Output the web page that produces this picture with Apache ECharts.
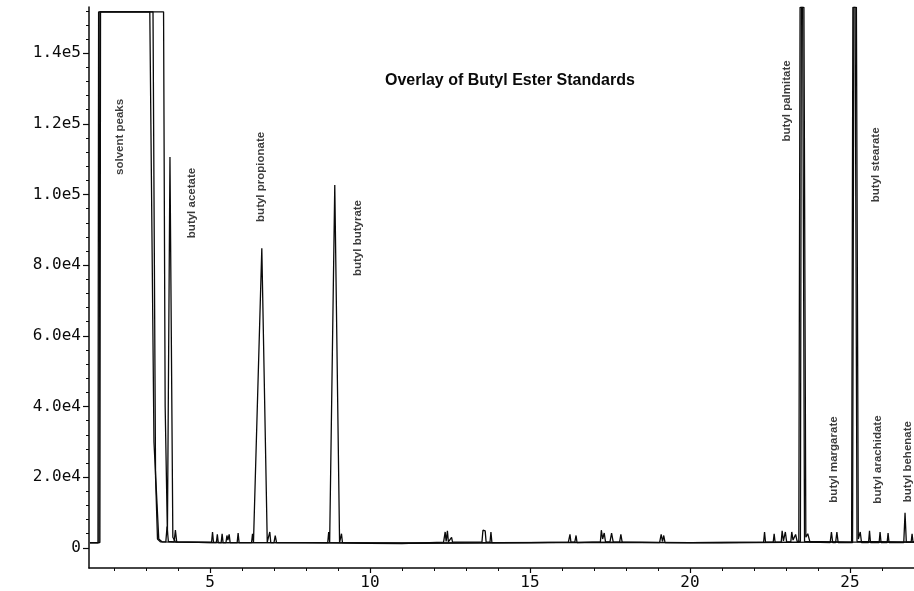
<!DOCTYPE html>
<html><head><meta charset="utf-8">
<script src="https://cdn.jsdelivr.net/npm/echarts@6/dist/echarts.min.js"></script>
<style>html,body{margin:0;padding:0;background:#fff}#c{width:914px;height:591px}</style>
</head><body><div id="c"></div>
<script>
// ---- axis ticks / labels ----
const xMajorTicks = [5, 10, 15, 20, 25];
const xMinorTicks = [2, 3, 4, 6, 7, 8, 9, 11, 12, 13, 14, 16, 17, 18, 19, 21, 22, 23, 24, 26];
const yMajorTicks = [0, 20000, 40000, 60000, 80000, 100000, 120000, 140000];
const yTickLabels = ['0', '2.0e4', '4.0e4', '6.0e4', '8.0e4', '1.0e5', '1.2e5', '1.4e5'];
const yMinorTicks = [4000, 8000, 12000, 16000, 24000, 28000, 32000, 36000, 44000, 48000, 52000, 56000,
  64000, 68000, 72000, 76000, 84000, 88000, 92000, 96000, 104000, 108000, 112000, 116000,
  124000, 128000, 132000, 136000, 144000, 148000, 152000];

// ---- traces: [retention time (min), abundance] ----
const traceA = [
  [1.25, 1400], [1.50, 1400], [1.52, 151700], [3.55, 151700], [3.60, 40000], [3.67, 4000],
  [3.75, 110600], [3.84, 3000], [3.92, 1700],
  [5.05, 1600], [5.08, 4500], [5.11, 1600], [5.35, 1500], [5.38, 4000], [5.41, 1500],
  [5.50, 1500], [5.53, 3500], [5.56, 2200], [5.60, 3800], [5.63, 1500],
  [5.85, 1500], [5.88, 4200], [5.91, 1500],
  [6.30, 1500], [6.33, 4000], [6.36, 1600], [6.42, 1600], [6.62, 84800], [6.79, 1600],
  [6.84, 1600], [6.87, 4500], [6.90, 1500],
  [8.68, 1500], [8.71, 4500], [8.74, 1500], [8.76, 1500], [8.90, 102700], [9.05, 1500],
  [9.08, 1500], [9.11, 4000], [9.14, 1500],
  [10.0, 1300], [11.0, 1200], [12.3, 1600], [12.35, 4500], [12.38, 1800], [12.42, 4800],
  [12.45, 1700], [12.55, 3000], [12.58, 1600],
  [13.5, 1700], [13.53, 5000], [13.56, 4600], [13.60, 4800], [13.63, 1600],
  [13.75, 1600], [13.78, 4500], [13.81, 1500],
  [15.0, 1500], [16.2, 1600], [16.25, 3800], [16.28, 1600], [16.40, 1600], [16.44, 3500], [16.47, 1500],
  [17.2, 1700], [17.23, 5000], [17.27, 2500], [17.32, 4200], [17.36, 1700],
  [17.5, 1700], [17.55, 4200], [17.60, 1700], [17.80, 1600], [17.84, 3800], [17.88, 1600],
  [19.05, 1500], [19.10, 3800], [19.14, 1800], [19.18, 3500], [19.22, 1500],
  [21.0, 1400], [22.0, 1500], [24.0, 1600], [26.0, 1600], [27.0, 1600]
];
const traceB = [
  [1.25, 1500], [1.53, 1500], [1.56, 151700], [3.12, 151700], [3.25, 30000], [3.40, 2500], [3.50, 1700],
  [4.0, 1600], [5.2, 1500], [5.23, 3800], [5.26, 1500], [6.0, 1500], [7.0, 1500], [7.04, 3500], [7.08, 1500],
  [9.0, 1400], [12.0, 1400], [14.0, 1500], [18.0, 1600], [20.0, 1500],
  [22.30, 1600], [22.33, 4500], [22.36, 1600], [22.60, 1600], [22.63, 4000], [22.66, 1600],
  [22.85, 1600], [22.88, 4800], [22.92, 2000], [22.98, 4500], [23.02, 1700],
  [23.15, 1700], [23.18, 4500], [23.22, 2200], [23.30, 3800], [23.35, 1800],
  [23.45, 1800], [23.48, 153000], [23.56, 153000], [23.62, 3000], [23.68, 4000], [23.75, 1600],
  [24.38, 1500], [24.42, 4500], [24.46, 1500], [24.55, 1500], [24.59, 4500], [24.63, 1500],
  [25.08, 1500], [25.12, 153000], [25.20, 153000], [25.26, 2500], [25.32, 4500], [25.36, 1500],
  [25.58, 1500], [25.61, 4800], [25.64, 1500], [25.91, 1500], [25.94, 4500], [25.97, 1500],
  [26.16, 1500], [26.19, 4200], [26.22, 1500],
  [26.68, 1500], [26.72, 9900], [26.76, 1600], [26.91, 1600], [26.94, 4000], [26.97, 1600], [27.0, 1600]
];
const traceC = [
  [1.25, 1500], [1.56, 1500], [1.58, 151700], [3.22, 151700], [3.30, 20000], [3.36, 2500], [3.45, 1700],
  [3.62, 1700], [3.66, 6000], [3.70, 1800], [3.88, 1700], [3.92, 5000], [3.96, 1700],
  [5.0, 1500], [8.0, 1500], [11.0, 1300], [16.0, 1500], [20.0, 1500], [23.40, 1600], [23.44, 153000],
  [23.52, 153000], [23.58, 1800], [25.05, 1600], [25.09, 153000], [25.16, 153000], [25.22, 1800],
  [27.0, 1600]
];

// ---- peak annotations ----
const labelNames = ['solvent peaks', 'butyl acetate', 'butyl propionate', 'butyl butyrate',
  'butyl palmitate', 'butyl stearate', 'butyl margarate', 'butyl arachidate', 'butyl behenate'];
const labelTimes = [2.19, 4.44, 6.59, 9.63, 23.03, 25.81, 24.50, 25.88, 26.81];
const labelValues = [116300, 97600, 105000, 87700, 126500, 108400, 25000, 25000, 24400];

const titleText = 'Overlay of Butyl Ester Standards';

const ink = '#0a0a0a';
const lineSeries = (d) => ({
  type: 'line', data: d, showSymbol: false, symbol: 'none', clip: true,
  lineStyle: { color: ink, width: 1.3 }, animation: false, z: 3
});

const chart = echarts.init(document.getElementById('c'), null, { renderer: 'canvas' });
chart.setOption({
  animation: false,
  backgroundColor: '#fff',
  title: {
    text: titleText, left: 380, top: 68,
    textStyle: { fontFamily: 'Liberation Sans', fontWeight: 'bold', fontSize: 16, color: ink }
  },
  grid: { left: 89, right: 0, top: 7, bottom: 23, containLabel: false },
  xAxis: [
    {
      type: 'value', min: 1.22, max: 27, position: 'bottom',
      axisLine: { show: true, onZero: false, lineStyle: { color: ink, width: 1.5 } },
      axisTick: { show: true, customValues: xMajorTicks, length: 5, lineStyle: { color: ink, width: 1.2 } },
      axisLabel: { customValues: xMajorTicks, color: ink, fontSize: 16, margin: 7,
        fontFamily: 'DejaVu Sans Mono' },
      splitLine: { show: false }
    },
    {
      type: 'value', min: 1.22, max: 27, position: 'bottom',
      axisLine: { show: false, onZero: false },
      axisTick: { show: true, customValues: xMinorTicks, length: 3, lineStyle: { color: ink, width: 1 } },
      axisLabel: { show: false }, splitLine: { show: false }
    }
  ],
  yAxis: [
    {
      type: 'value', min: -5700, max: 153080, position: 'left',
      axisLine: { show: true, onZero: false, lineStyle: { color: ink, width: 1.5 } },
      axisTick: { show: true, customValues: yMajorTicks, length: 6, lineStyle: { color: ink, width: 1.2 } },
      axisLabel: {
        customValues: yMajorTicks, color: ink, fontSize: 16, margin: 8,
        fontFamily: 'DejaVu Sans Mono',
        formatter: (v) => yTickLabels[yMajorTicks.indexOf(v)]
      },
      splitLine: { show: false }
    },
    {
      type: 'value', min: -5700, max: 153080, position: 'left',
      axisLine: { show: false, onZero: false },
      axisTick: { show: true, customValues: yMinorTicks, length: 3, lineStyle: { color: ink, width: 1 } },
      axisLabel: { show: false }, splitLine: { show: false }
    }
  ],
  series: [
    lineSeries(traceA), lineSeries(traceB), lineSeries(traceC),
    {
      type: 'scatter', symbolSize: 1, itemStyle: { color: 'rgba(0,0,0,0)' }, z: 5,
      data: labelNames.map((n, i) => ({ name: n, value: [labelTimes[i], labelValues[i]] })),
      label: {
        show: true, position: 'inside', rotate: 90, formatter: (p) => p.name,
        fontSize: 11.5, fontWeight: 'bold', color: ink, fontFamily: 'Liberation Sans'
      },
      silent: true
    }
  ]
});
</script></body></html>
